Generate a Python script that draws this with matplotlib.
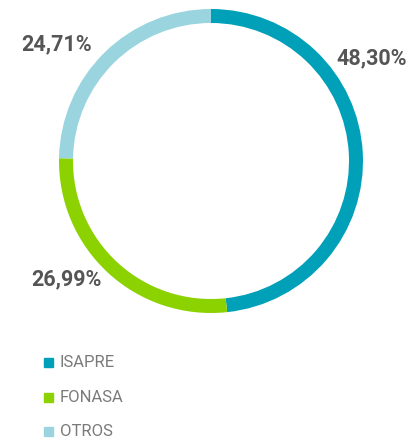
import matplotlib
matplotlib.use("Agg")
import matplotlib.pyplot as plt

categories = ["ISAPRE", "FONASA", "OTROS"]
values = [48.30, 26.99, 24.71]
labels = ["48,30%", "26,99%", "24,71%"]
colors = ["#00A0B8", "#8CD200", "#9AD5DF"]

W, H = 410, 439
fig = plt.figure(figsize=(W/100, H/100), dpi=100)
cx, cy, r = 211, 162, 152
ax = fig.add_axes([(cx - r)/W, 1 - (cy + r)/H, 2*r/W, 2*r/H])
ax.pie(values, colors=colors, startangle=90, counterclock=False,
       wedgeprops=dict(width=14/152, edgecolor="none"), radius=1)
ax.set_xlim(-1, 1); ax.set_ylim(-1, 1)
ax.set_aspect("auto")
ax.axis("off")

label_pos = [(372, 58), (66, 279), (57, 44)]
for (x, y), t in zip(label_pos, labels):
    fig.text(x/W, 1 - y/H, t, ha="center", va="center", fontsize=15.5,
             fontweight="bold", color="#555555", family="Roboto")

leg_y = [363, 398, 432]
for yy, c, name in zip(leg_y, colors, categories):
    fig.patches.append(plt.Rectangle(((44)/W, 1 - (yy + 4.5)/H), 9/W, 9/H,
                                     transform=fig.transFigure, color=c))
    fig.text(60/W, 1 - yy/H, name, ha="left", va="center", fontsize=12,
             color="#7a7a7a", family="Roboto")

fig.savefig("out.png", dpi=100)
